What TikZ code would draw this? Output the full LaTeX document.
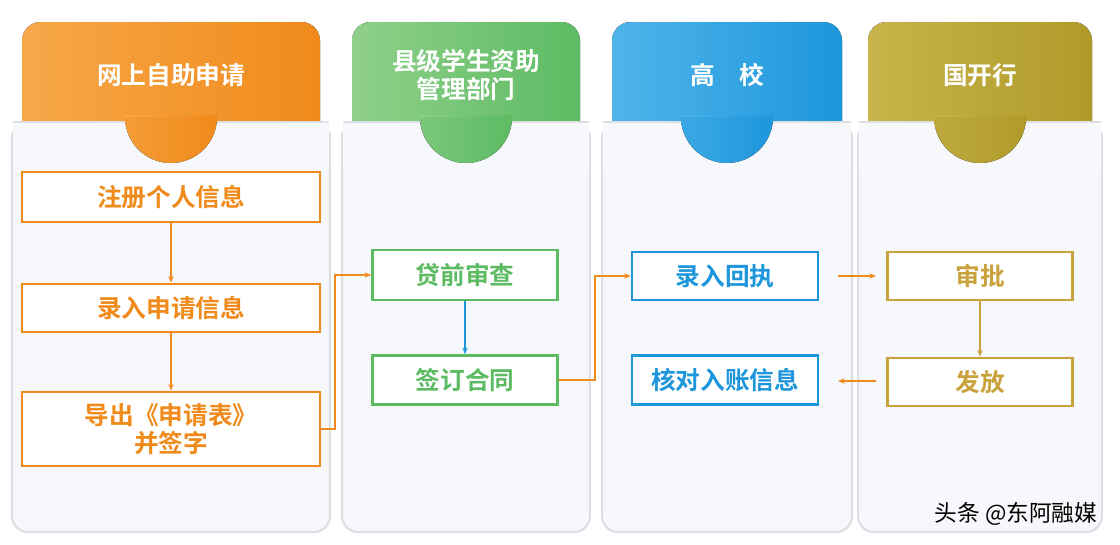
\documentclass[tikz,border=0pt]{standalone}
\usepackage{fontspec}
\newfontfamily\cjk{Noto Sans CJK SC}
\newfontfamily\cjkb{Noto Sans CJK SC Bold}
\usetikzlibrary{arrows.meta}
\definecolor{cor}{HTML}{F08A1A}\definecolor{corL}{HTML}{F7A84A}
\definecolor{cgr}{HTML}{5DBB63}\definecolor{cgrL}{HTML}{8FD08A}
\definecolor{cbl}{HTML}{1E96DC}\definecolor{cblL}{HTML}{4FB4EA}
\definecolor{col}{HTML}{B09A2A}\definecolor{colL}{HTML}{C8B44A}
\definecolor{gold}{HTML}{C9A23C}
\definecolor{panel}{HTML}{F6F8FB}\definecolor{pedge}{HTML}{DCE0E5}
\begin{document}
\begin{tikzpicture}[x=0.75pt,y=-0.75pt,
 pan/.style={fill=panel,draw=pedge,line width=1.6pt,rounded corners=12pt},
 hdr/.style={text=white,font=\cjkb\fontsize{18.5}{21}\selectfont,align=center},
 bx/.style={draw=#1,line width=2pt,fill=white,font=\cjkb\fontsize{18.5}{21}\selectfont,text=#1,align=center,inner sep=0pt},
 arr/.style={-{Stealth[length=5pt,width=4pt]},line width=1.5pt,draw=#1}]
\useasboundingbox (0,0) rectangle (1120,544);
\fill[white] (0,0) rectangle (1120,544);
\newcommand\column[6]{%
 \draw[pan] (#1-10,122) rectangle (#2+10,532);
 \fill[left color=#4,right color=#3,rounded corners=14pt] (#1,22) rectangle (#2,160);
 \fill[panel] (#1-9,123) rectangle (#2+9,170);
 \draw[pedge,line width=1.2pt] (#1-9,122) -- (#2+9,122);
 \fill[left color=#4,right color=#3] ({(#1+#2)/2-46},115) rectangle ({(#1+#2)/2+46},122);
 \fill[left color=#4!60!#3,right color=#3] ({(#1+#2)/2},117) ++(-46,0) arc[start angle=180,end angle=360,radius=34.5pt];
 \node[hdr] (#6) at ({(#1+#2)/2},75) {#5};
}
\column{22}{320}{cor}{corL}{网上自助申请}{h1}
\column{352}{580}{cgr}{cgrL}{县级学生资助\\管理部门}{h2}
\column{612}{842}{cbl}{cblL}{高\quad 校}{h3}
\column{868}{1092}{col}{colL}{国开行}{h4}
\node[bx=cor,minimum width=298*0.75pt,minimum height=50*0.75pt] (a1) at (171,197) {注册个人信息};
\node[bx=cor,minimum width=298*0.75pt,minimum height=48*0.75pt] (a2) at (171,308) {录入申请信息};
\node[bx=cor,minimum width=298*0.75pt,minimum height=74*0.75pt] (a3) at (171,429) {导出《申请表》\\并签字};
\draw[arr=cor] (a1) -- (a2);
\draw[arr=cor] (a2) -- (a3);
\node[bx=cgr,minimum width=185*0.75pt,minimum height=50*0.75pt] (b1) at (465,275) {贷前审查};
\node[bx=cgr,minimum width=185*0.75pt,minimum height=49*0.75pt] (b2) at (465,380) {签订合同};
\draw[arr=cbl,line width=1pt] (b1) -- (b2);
\node[bx=cbl,minimum width=186*0.75pt,minimum height=48*0.75pt] (c1) at (725,276) {录入回执};
\node[bx=cbl,minimum width=186*0.75pt,minimum height=49*0.75pt] (c2) at (725,380) {核对入账信息};
\node[bx=gold,minimum width=185*0.75pt,minimum height=48*0.75pt] (d1) at (980,276) {审批};
\node[bx=gold,minimum width=185*0.75pt,minimum height=48*0.75pt] (d2) at (980,382) {发放};
\draw[arr=gold,line width=1pt] (d1) -- (d2);
\coordinate (k1) at (335,0); \coordinate (k2) at (595,0);
\draw[arr=cor] (a3.east) -| (k1|-b1.east) -- (b1.west);
\draw[arr=cor] (b2.east) -| (k2|-c1.west) -- (c1.west);
\coordinate (e1) at (838,276); \coordinate (e2) at (876,276);
\coordinate (f1) at (876,381); \coordinate (f2) at (838,381);
\draw[arr=cor] (e1) -- (e2);
\draw[arr=cor] (f1) -- (f2);
\node[font=\cjk\fontsize{17}{20}\selectfont,anchor=east] (wm) at (1102,514) {头条 @东阿融媒};
\end{tikzpicture}
\end{document}
